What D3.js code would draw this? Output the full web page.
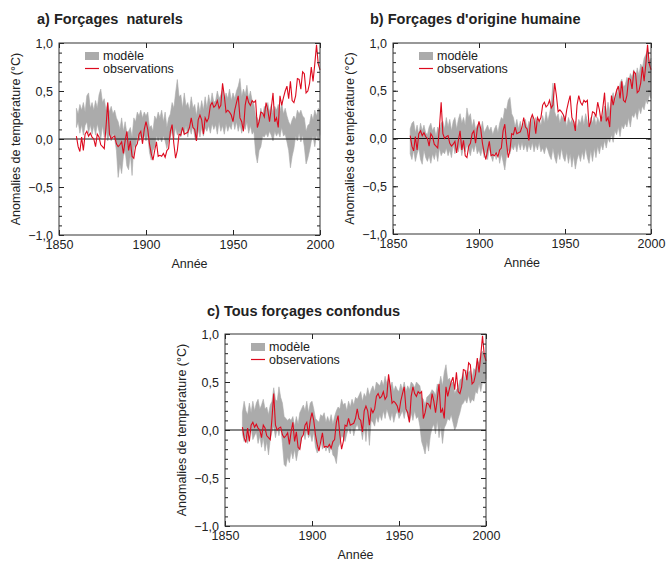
<!DOCTYPE html>
<html>
<head>
<meta charset="utf-8">
<script src="https://cdn.jsdelivr.net/npm/d3@7"></script>
<style>
  body { margin: 0; background: #fff; }
  text { font-family: "Liberation Sans", Arial, sans-serif; fill: #222; }
  .title { font-weight: bold; font-size: 14.5px; white-space: pre; }
  .axis text { font-size: 12.5px; }
</style>
</head>
<body>
<div id="chart-area"></div>
<script>

// Data: annual values 1860-2000, anomalies in °C

let firstYear = 1860;

let observations = [
  0.03,-0.08,-0.13,0.02,-0.12,0.05,0.08,0.03,0.06,0.02,
  0.00,-0.08,0.05,0.02,-0.06,-0.08,-0.10,0.12,0.38,0.05,
  0.00,0.02,0.03,-0.05,-0.08,-0.06,-0.03,-0.15,-0.02,0.08,
  -0.12,-0.02,-0.18,-0.20,-0.08,-0.05,0.05,0.08,-0.05,0.10,
  0.18,0.10,-0.05,-0.15,-0.22,-0.12,-0.03,-0.18,-0.17,-0.18,
  -0.15,-0.19,-0.12,-0.10,0.08,0.15,-0.05,-0.20,-0.12,0.05,
  0.04,0.12,0.05,0.06,0.07,0.12,0.22,0.12,0.10,-0.02,
  0.20,0.25,0.20,0.05,0.22,0.18,0.22,0.35,0.38,0.33,
  0.35,0.40,0.32,0.35,0.58,0.45,0.28,0.30,0.28,0.25,
  0.18,0.30,0.38,0.45,0.22,0.18,0.08,0.35,0.45,0.38,
  0.35,0.40,0.38,0.40,0.12,0.18,0.28,0.27,0.23,0.38,
  0.30,0.18,0.32,0.48,0.18,0.22,0.12,0.45,0.35,0.43,
  0.50,0.55,0.42,0.60,0.40,0.38,0.45,0.63,0.62,0.52,
  0.70,0.68,0.48,0.50,0.58,0.75,0.60,0.78,0.98,0.78,
  0.72
];

// a) natural forcings, model range
let naturalLow = [
  0.12,0.18,0.06,0.15,0.04,0.14,0.18,0.06,0.15,0.05,
  0.14,0.04,0.16,0.08,0.00,0.14,0.02,0.10,-0.02,0.06,
  -0.02,0.06,0.00,-0.12,-0.40,-0.26,-0.36,-0.18,-0.12,-0.28,
  -0.32,-0.16,-0.38,-0.06,-0.10,0.04,-0.02,0.04,0.00,0.04,
  -0.02,0.04,-0.14,-0.22,-0.12,-0.08,0.03,-0.02,0.02,-0.03,
  0.03,-0.02,-0.10,-0.02,0.02,0.10,0.00,0.12,0.04,0.08,
  0.02,0.12,0.04,0.14,0.02,0.12,0.05,0.14,0.02,-0.02,
  0.10,0.02,0.12,0.03,0.12,0.08,0.14,0.06,0.16,0.10,
  0.15,0.05,0.18,0.08,0.14,0.05,0.16,0.08,0.14,0.10,
  0.20,0.10,0.18,0.08,0.16,0.06,0.16,0.10,0.18,0.06,
  0.14,0.05,0.08,-0.15,-0.25,-0.12,-0.08,0.03,0.02,0.06,
  0.02,0.08,0.04,-0.02,0.08,0.03,0.07,0.02,0.12,0.03,
  0.05,-0.03,-0.12,-0.30,-0.18,-0.10,0.03,-0.02,0.06,-0.03,
  0.04,-0.08,-0.26,-0.20,-0.12,-0.02,0.03,-0.08,0.04,-0.02,
  0.05
];
let naturalHigh = [
  0.32,0.26,0.36,0.30,0.38,0.28,0.45,0.48,0.32,0.38,
  0.30,0.40,0.32,0.46,0.52,0.38,0.42,0.30,0.38,0.28,
  0.34,0.26,0.30,0.22,0.18,0.10,0.22,0.08,0.18,0.06,
  0.08,0.12,0.02,0.22,0.18,0.28,0.24,0.30,0.22,0.28,
  0.24,0.28,0.12,0.14,0.08,0.24,0.20,0.28,0.22,0.30,
  0.18,0.28,0.12,0.22,0.26,0.38,0.32,0.48,0.62,0.44,
  0.46,0.32,0.48,0.34,0.38,0.30,0.44,0.32,0.36,0.24,
  0.38,0.28,0.40,0.30,0.44,0.32,0.46,0.36,0.48,0.38,
  0.40,0.50,0.42,0.46,0.52,0.40,0.48,0.42,0.52,0.40,
  0.48,0.42,0.50,0.55,0.63,0.44,0.52,0.46,0.56,0.42,
  0.50,0.40,0.36,0.24,0.22,0.18,0.32,0.24,0.34,0.30,
  0.38,0.28,0.36,0.26,0.34,0.30,0.36,0.28,0.38,0.26,
  0.32,0.24,0.18,0.14,0.20,0.24,0.20,0.30,0.26,0.30,
  0.24,0.22,0.08,0.14,0.16,0.26,0.20,0.30,0.24,0.32,
  0.30
];

// b) anthropogenic forcings, model range
let humanLow = [
  -0.16,-0.22,-0.12,-0.24,-0.16,-0.10,-0.22,-0.27,-0.12,-0.20,
  -0.24,-0.18,-0.26,-0.16,-0.22,-0.14,-0.24,-0.10,-0.18,-0.14,
  -0.16,-0.10,-0.18,-0.12,-0.20,-0.06,-0.16,-0.08,-0.14,-0.06,
  -0.18,-0.08,-0.14,-0.06,-0.12,-0.18,-0.08,-0.14,-0.06,-0.16,
  -0.12,-0.18,-0.10,-0.20,-0.12,-0.22,-0.10,-0.18,-0.24,-0.14,
  -0.22,-0.12,-0.26,-0.16,-0.24,-0.33,-0.18,-0.12,-0.16,-0.08,
  -0.12,-0.06,-0.14,-0.04,-0.12,-0.04,-0.12,-0.06,-0.14,-0.06,
  -0.12,-0.04,-0.14,-0.06,-0.12,-0.04,-0.14,-0.10,-0.16,-0.08,
  -0.12,-0.18,-0.22,-0.10,-0.20,-0.26,-0.14,-0.22,-0.10,-0.20,
  -0.24,-0.14,-0.26,-0.16,-0.30,-0.18,-0.32,-0.22,-0.16,-0.24,
  -0.14,-0.22,-0.10,-0.20,-0.26,-0.12,-0.24,-0.10,-0.20,-0.08,
  -0.16,-0.06,-0.12,-0.02,-0.10,0.00,-0.04,0.04,-0.04,0.08,
  0.04,0.12,0.02,0.14,0.10,0.16,0.12,0.22,0.12,0.25,
  0.22,0.28,0.20,0.32,0.26,0.34,0.30,0.40,0.36,0.46,
  0.42
];
let humanHigh = [
  0.10,0.16,0.18,0.06,0.14,0.04,0.16,0.08,0.14,0.06,
  0.04,0.12,0.16,0.08,0.12,0.02,0.12,0.08,0.16,0.18,
  0.10,0.22,0.12,0.20,0.08,0.18,0.22,0.10,0.20,0.26,
  0.16,0.22,0.14,0.32,0.22,0.26,0.12,0.20,0.10,0.14,
  0.16,0.08,0.18,0.06,0.10,0.14,0.08,0.12,0.04,0.10,
  0.14,0.06,0.16,0.22,0.20,0.32,0.30,0.40,0.43,0.26,
  0.22,0.12,0.20,0.10,0.18,0.08,0.16,0.20,0.10,0.18,
  0.14,0.24,0.12,0.22,0.16,0.20,0.14,0.24,0.16,0.28,
  0.18,0.26,0.36,0.58,0.28,0.22,0.26,0.16,0.24,0.20,
  0.24,0.12,0.22,0.16,0.20,0.14,0.18,0.10,0.20,0.16,
  0.24,0.14,0.26,0.18,0.12,0.22,0.16,0.24,0.14,0.22,
  0.16,0.24,0.22,0.34,0.26,0.38,0.28,0.42,0.48,0.38,
  0.52,0.44,0.58,0.62,0.54,0.56,0.64,0.60,0.68,0.64,
  0.72,0.62,0.74,0.66,0.78,0.74,0.84,0.88,0.92,0.80,
  0.84
];

// c) all forcings, model range
let allLow = [
  -0.04,-0.12,-0.06,-0.14,-0.02,0.02,-0.10,-0.06,-0.02,-0.14,
  -0.06,-0.18,-0.08,-0.22,-0.12,-0.26,-0.10,-0.02,0.04,-0.08,
  0.02,-0.06,0.04,-0.14,-0.36,-0.38,-0.28,-0.34,-0.22,-0.30,
  -0.20,-0.32,-0.22,-0.20,-0.08,-0.02,-0.10,0.00,-0.08,-0.04,
  -0.12,-0.02,-0.18,-0.24,-0.18,-0.10,-0.20,-0.12,-0.22,-0.16,
  -0.24,-0.16,-0.26,-0.28,-0.35,-0.18,-0.14,-0.06,-0.08,-0.12,
  -0.04,0.02,-0.04,0.04,-0.06,0.02,0.06,0.00,0.02,-0.10,
  0.04,-0.12,0.06,-0.16,0.10,0.08,0.04,0.14,0.08,0.16,
  0.10,0.20,0.12,0.22,0.16,0.10,0.18,0.08,0.16,0.20,
  0.12,0.16,0.20,0.12,0.22,0.14,0.08,0.18,0.10,0.20,
  0.12,0.14,0.04,-0.12,-0.18,-0.25,-0.12,-0.22,-0.06,0.02,
  0.06,-0.04,0.10,-0.08,0.04,-0.14,0.02,0.06,0.12,0.10,
  0.16,0.08,0.00,0.04,0.12,0.18,0.26,0.28,0.32,0.28,
  0.36,0.28,0.32,0.30,0.40,0.38,0.48,0.40,0.50,0.48,
  0.54
];
let allHigh = [
  0.18,0.30,0.20,0.16,0.28,0.18,0.30,0.20,0.28,0.32,
  0.22,0.26,0.32,0.22,0.24,0.16,0.26,0.30,0.44,0.32,
  0.30,0.45,0.34,0.28,0.14,0.12,0.10,0.12,0.10,0.14,
  0.04,0.14,0.06,0.18,0.22,0.26,0.20,0.30,0.18,0.28,
  0.30,0.22,0.12,0.10,0.08,0.16,0.14,0.18,0.08,0.14,
  0.08,0.16,0.06,0.14,0.20,0.24,0.22,0.32,0.26,0.28,
  0.20,0.30,0.24,0.32,0.26,0.34,0.32,0.36,0.40,0.30,
  0.38,0.34,0.44,0.36,0.42,0.46,0.40,0.50,0.48,0.46,
  0.52,0.46,0.56,0.48,0.54,0.44,0.50,0.40,0.46,0.42,
  0.40,0.48,0.42,0.50,0.40,0.46,0.42,0.50,0.48,0.44,
  0.50,0.48,0.46,0.34,0.32,0.26,0.34,0.36,0.38,0.42,
  0.40,0.36,0.48,0.46,0.56,0.46,0.60,0.68,0.52,0.54,
  0.48,0.50,0.38,0.42,0.44,0.52,0.54,0.60,0.50,0.62,
  0.60,0.62,0.54,0.64,0.62,0.72,0.70,0.80,0.82,0.78,
  0.80
];

let yearTicks = [1850, 1900, 1950, 2000];
let tempTicks = [-1.0, -0.5, 0.0, 0.5, 1.0];
let legendLabels = ["modèle", "observations"];


// SVG drawing area

let svg = d3.select("#chart-area").append("svg")
    .attr("width", 666)
    .attr("height", 562);

let panels = [
  {title: "a) Forçages  naturels", left: 59, top: 43, w: 261, h: 192, tx: 37, ty: 24, low: naturalLow, high: naturalHigh},
  {title: "b) Forçages d'origine humaine", left: 393, top: 43, w: 258, h: 191, tx: 370, ty: 24, low: humanLow, high: humanHigh},
  {title: "c) Tous forçages confondus", left: 225, top: 334, w: 261, h: 192, tx: 207, ty: 316, low: allLow, high: allHigh}
];

let fmt = d => d3.format(".1f")(d).replace(".", ",").replace("-", "\u2212");

panels.forEach(function(p) {

  svg.append("text")
    .attr("class", "title")
    .attr("x", p.tx)
    .attr("y", p.ty)
    .text(p.title);

  let g = svg.append("g")
    .attr("transform", "translate(" + p.left + "," + p.top + ")");

  let x = d3.scaleLinear().domain([1850, 2000]).range([0, p.w]);
  let y = d3.scaleLinear().domain([-1, 1]).range([p.h, 0]);

  let years = observations.map((d, i) => firstYear + i);

  // model range
  let band = d3.area()
    .x((d, i) => x(years[i]))
    .y0((d, i) => y(p.low[i]))
    .y1((d, i) => y(p.high[i]));

  g.append("path")
    .datum(p.low)
    .attr("d", band)
    .attr("fill", "#ababab")
    .attr("stroke", "#ababab")
    .attr("stroke-width", 0.6);

  // zero line
  g.append("line")
    .attr("x1", 0).attr("x2", p.w)
    .attr("y1", y(0)).attr("y2", y(0))
    .attr("stroke", "#111")
    .attr("stroke-width", 1);

  // observations
  let line = d3.line()
    .x((d, i) => x(years[i]))
    .y(d => y(d));

  g.append("path")
    .datum(observations)
    .attr("d", line)
    .attr("fill", "none")
    .attr("stroke", "#dd0a1e")
    .attr("stroke-width", 1.1);

  // axes, ticks pointing inward
  let minor = d3.range(-10, 11).map(d => d / 10);

  g.append("g").attr("class", "axis")
    .call(d3.axisLeft(y).tickValues(minor).tickSize(-3).tickFormat(""))
    .call(a => a.select(".domain").remove());
  g.append("g").attr("class", "axis")
    .call(d3.axisLeft(y).tickValues(tempTicks).tickSize(-5).tickPadding(6).tickFormat(fmt))
    .call(a => a.select(".domain").remove());

  g.append("g").attr("class", "axis")
    .attr("transform", "translate(" + p.w + ",0)")
    .call(d3.axisRight(y).tickValues(minor).tickSize(-3).tickFormat(""))
    .call(a => a.select(".domain").remove());
  g.append("g").attr("class", "axis")
    .attr("transform", "translate(" + p.w + ",0)")
    .call(d3.axisRight(y).tickValues(tempTicks).tickSize(-5).tickFormat(""))
    .call(a => a.select(".domain").remove());

  g.append("g").attr("class", "axis")
    .attr("transform", "translate(0," + p.h + ")")
    .call(d3.axisBottom(x).tickValues(yearTicks).tickSize(-5).tickPadding(5).tickFormat(d3.format("d")))
    .call(a => a.select(".domain").remove());
  g.append("g").attr("class", "axis")
    .call(d3.axisTop(x).tickValues(yearTicks).tickSize(-5).tickFormat(""))
    .call(a => a.select(".domain").remove());

  g.selectAll(".axis line").attr("stroke", "#222");

  // frame
  g.append("rect")
    .attr("width", p.w).attr("height", p.h)
    .attr("fill", "none")
    .attr("stroke", "#333")
    .attr("stroke-width", 1);

  // axis titles
  g.append("text")
    .attr("x", p.w / 2)
    .attr("y", p.h + 33)
    .attr("text-anchor", "middle")
    .style("font-size", "12.5px")
    .text("Année");

  g.append("text")
    .attr("transform", "translate(-39," + (p.h / 2) + ") rotate(-90)")
    .attr("text-anchor", "middle")
    .style("font-size", "12.5px")
    .text("Anomalies de température (°C)");

  // legend
  let leg = g.append("g").attr("transform", "translate(26,9)");
  leg.append("rect")
    .attr("width", 14).attr("height", 8)
    .attr("fill", "#ababab");
  leg.append("text")
    .attr("x", 18).attr("y", 8)
    .style("font-size", "12.5px")
    .text(legendLabels[0]);
  leg.append("line")
    .attr("x1", 0).attr("x2", 14)
    .attr("y1", 16.5).attr("y2", 16.5)
    .attr("stroke", "#dd0a1e")
    .attr("stroke-width", 1.2);
  leg.append("text")
    .attr("x", 18).attr("y", 21)
    .style("font-size", "12.5px")
    .text(legendLabels[1]);
});

</script>
</body>
</html>
